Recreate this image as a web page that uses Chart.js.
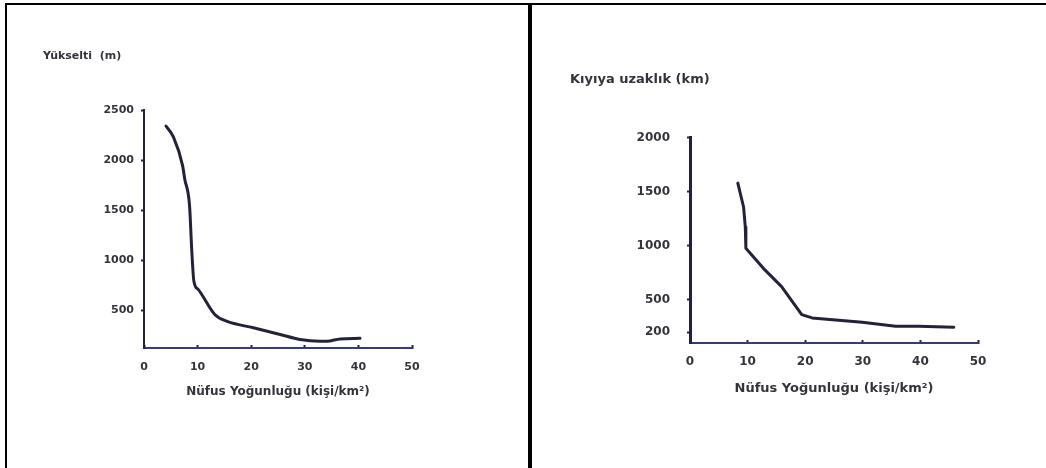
<!DOCTYPE html>
<html>
<head>
<meta charset="utf-8">
<script src="https://cdn.jsdelivr.net/npm/chart.js@4/dist/chart.umd.min.js"></script>
<style>
  body { margin: 0; background: #fff; }
  #page { position: relative; width: 1046px; height: 468px; overflow: hidden; background: #fff; }
  canvas { position: absolute; left: 0; top: 0; }
  .line { position: absolute; background: #000; }
</style>
</head>
<body>
<div id="page">
  <canvas id="leftChart" width="1046" height="468"></canvas>
  <canvas id="rightChart" width="1046" height="468"></canvas>
  <div class="line" style="left:5px; top:3px; width:1041px; height:2px;"></div>
  <div class="line" style="left:5px; top:3px; width:2px; height:465px;"></div>
  <div class="line" style="left:528px; top:3px; width:4px; height:465px;"></div>
</div>
<script>
// left panel: elevation vs population density
let leftDensity = [4.1, 5.5, 7.2, 7.6, 8.5, 8.9, 9.3, 10.1, 13.2, 15.4, 20.4, 25.4, 29.1, 32.8, 34.1, 36.6, 40.3];
let leftElevation = [2342, 2231, 1947, 1814, 1546, 1112, 795, 711, 461, 394, 328, 261, 211, 193, 193, 217, 223];
let leftYTicks = [500, 1000, 1500, 2000, 2500];

// right panel: distance to coast vs population density
let rightDensity = [8.3, 9.3, 9.6, 9.7, 13.0, 15.9, 19.4, 21.2, 29.9, 35.7, 39.7, 45.8];
let rightDistance = [1579, 1358, 1174, 976, 776, 622, 362, 332, 291, 254, 254, 245];
let rightYTicks = [200, 500, 1000, 1500, 2000];

let xTicks = [0, 10, 20, 30, 40, 50];
let xTitle = "Nüfus Yoğunluğu (kişi/km²)";

const FONT = "'DejaVu Sans', sans-serif";
const TEXT = "#33333b";
const INK = "#22223a";

function toPoints(xs, ys) {
    return xs.map((x, i) => ({ x: x, y: ys[i] }));
}

function makeChart(id, o) {
    let ctx = document.getElementById(id).getContext("2d");
    return new Chart(ctx, {
        type: "line",
        data: {
            datasets: [{
                data: toPoints(o.xs, o.ys),
                borderColor: INK,
                borderWidth: 3,
                pointRadius: 0,
                tension: o.tension,
                cubicInterpolationMode: o.tension ? "monotone" : "default",
                borderCapStyle: "round",
                borderJoinStyle: "round"
            }]
        },
        options: {
            responsive: false,
            animation: false,
            layout: { padding: o.padding },
            plugins: {
                legend: { display: false },
                tooltip: { enabled: false },
                title: {
                    display: true,
                    text: o.title,
                    align: "start",
                    color: TEXT,
                    font: { family: FONT, size: o.titleSize, weight: "bold" },
                    padding: o.titlePad
                }
            },
            scales: {
                x: {
                    type: "linear",
                    min: 0,
                    max: 50,
                    afterBuildTicks: s => { s.ticks = xTicks.map(v => ({ value: v })); },
                    afterFit: s => { s.height = 60; },
                    grid: { drawOnChartArea: false, tickLength: -3, tickColor: INK, tickWidth: 2 },
                    border: { color: o.xAxisColor, width: 2 },
                    ticks: {
                        color: TEXT,
                        padding: o.xTickPad,
                        font: { family: FONT, size: o.tickSize, weight: "bold" },
                        callback: v => String(v)
                    },
                    title: {
                        display: true,
                        text: xTitle,
                        color: TEXT,
                        font: { family: FONT, size: o.xTitleSize, weight: "bold" },
                        padding: { top: 0, bottom: o.xTitleBottom }
                    }
                },
                y: {
                    type: "linear",
                    min: o.yMin,
                    max: o.yMax,
                    afterBuildTicks: s => { s.ticks = o.yTicks.map(v => ({ value: v })); },
                    afterFit: s => { s.width = o.yWidth; },
                    grid: { drawOnChartArea: false, tickLength: 3, tickColor: INK, tickWidth: 2 },
                    border: { color: INK, width: o.yAxisWidth },
                    ticks: {
                        color: TEXT,
                        padding: o.yTickPad,
                        font: { family: FONT, size: o.tickSize, weight: "bold" },
                        callback: v => String(v)
                    }
                }
            }
        }
    });
}

makeChart("leftChart", {
    xs: leftDensity,
    ys: leftElevation,
    yTicks: leftYTicks,
    yMin: 126,
    yMax: 2500,
    tension: 0.3,
    title: "Yükselti  (m)",
    titleSize: 11,
    titlePad: { top: 50, bottom: 47 },
    padding: { left: 43, right: 634, top: 0, bottom: 60 },
    yWidth: 101,
    yTickPad: 7,
    xTickPad: 16,
    tickSize: 11,
    xTitleSize: 12,
    xTitleBottom: 9,
    xAxisColor: "#2f3b86",
    yAxisWidth: 2
});

makeChart("rightChart", {
    xs: rightDensity,
    ys: rightDistance,
    yTicks: rightYTicks,
    yMin: 100,
    yMax: 2000,
    tension: 0,
    title: "Kıyıya uzaklık (km)",
    titleSize: 13,
    titlePad: { top: 72, bottom: 50 },
    padding: { left: 570, right: 68, top: 0, bottom: 65 },
    yWidth: 120,
    yTickPad: 17,
    xTickPad: 15,
    tickSize: 12,
    xTitleSize: 13,
    xTitleBottom: 7,
    xAxisColor: "#2f3b86",
    yAxisWidth: 3
});
</script>
</body>
</html>
